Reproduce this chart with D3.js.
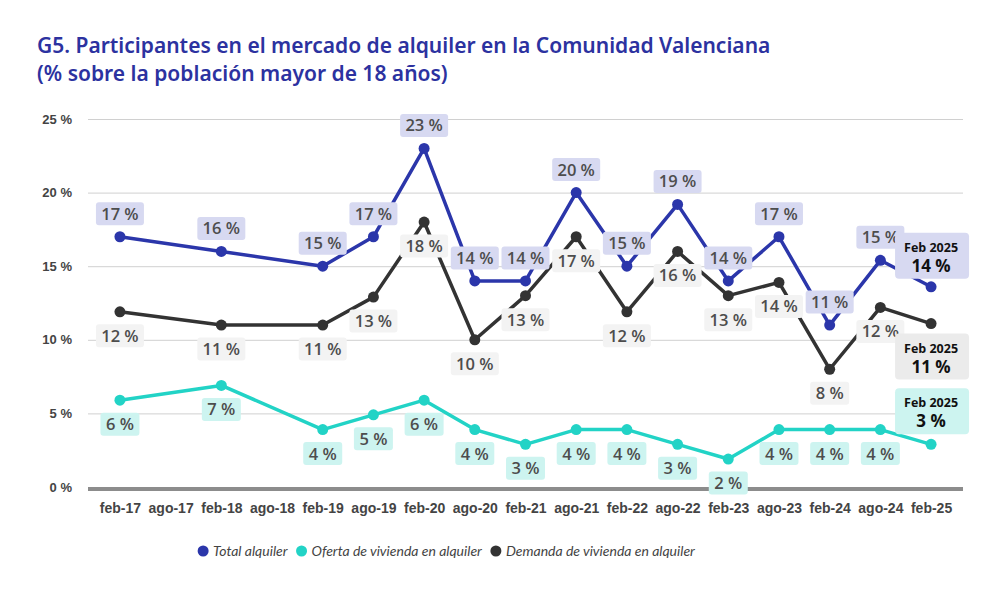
<!DOCTYPE html>
<html>
<head>
<meta charset="utf-8">
<script src="https://cdn.jsdelivr.net/npm/d3@7"></script>
<style>
  body { margin: 0; background: #fff; }
  svg { display: block; font-family: "Open Sans", sans-serif; }
</style>
</head>
<body>
<div class="canvas"></div>
<script>
// periods on the x axis
const periods = ['feb-17', 'ago-17', 'feb-18', 'ago-18', 'feb-19', 'ago-19', 'feb-20', 'ago-20',
  'feb-21', 'ago-21', 'feb-22', 'ago-22', 'feb-23', 'ago-23', 'feb-24', 'ago-24', 'feb-25'];

// periods that have survey data (no data for ago-17 and ago-18)
const surveyed = ['feb-17', 'feb-18', 'feb-19', 'ago-19', 'feb-20', 'ago-20', 'feb-21', 'ago-21',
  'feb-22', 'ago-22', 'feb-23', 'ago-23', 'feb-24', 'ago-24', 'feb-25'];

const totalAlquiler = [17, 16, 15, 17, 23, 14, 14, 20, 15, 19.2, 14, 17, 11, 15.4, 13.6];
const ofertaAlquiler = [5.9, 6.9, 3.9, 4.9, 5.9, 3.9, 2.9, 3.9, 3.9, 2.9, 1.9, 3.9, 3.9, 3.9, 2.9];
const demandaAlquiler = [11.9, 11, 11, 12.9, 18, 10, 13, 17, 11.9, 16, 13, 13.9, 8, 12.2, 11.1];

const yTicks = [0, 5, 10, 15, 20, 25];
const lastLabel = 'Feb 2025';

//chart dimensions
const dims = { width: 1000, height: 598 };
const plot = { left: 88, right: 963, top: 119, bottom: 487 };

const svg = d3.select('.canvas')
  .append('svg')
  .attr('width', dims.width)
  .attr('height', dims.height);

//title
const title = svg.append('text')
  .attr('x', 37)
  .attr('fill', '#2c32a0')
  .style('font-family', '"Noto Sans", sans-serif')
  .style('font-size', '21px')
  .style('font-weight', 600);
title.append('tspan').attr('x', 37).attr('y', 53)
  .text('G5. Participantes en el mercado de alquiler en la Comunidad Valenciana');
title.append('tspan').attr('x', 37).attr('y', 81)
  .text('(% sobre la población mayor de 18 años)');

//scales
const x = d3.scalePoint()
  .domain(periods)
  .range([plot.left, plot.right])
  .padding(0.63);

const y = d3.scaleLinear()
  .domain([0, 25])
  .range([plot.bottom, plot.top]);

//gridlines + y labels
const yAxis = svg.append('g')
  .attr('transform', `translate(${plot.left}, 0)`)
  .call(d3.axisLeft(y).tickValues(yTicks).tickSize(-(plot.right - plot.left)).tickFormat(d => d + ' %'));
yAxis.select('.domain').remove();
yAxis.selectAll('line').attr('stroke', '#d0d0d0').attr('stroke-width', 1);
yAxis.selectAll('text')
  .attr('x', -16)
  .attr('fill', '#444')
  .style('font-size', '13px')
  .style('font-weight', 600);

//x axis
const xAxis = svg.append('g')
  .attr('transform', `translate(0, ${plot.bottom + 2})`)
  .call(d3.axisBottom(x).tickSize(0).tickPadding(14));
xAxis.select('.domain')
  .attr('d', `M${plot.left},0H${plot.right}`)
  .attr('stroke', '#8c8c8c')
  .attr('stroke-width', 4);
xAxis.selectAll('text')
  .attr('fill', '#444')
  .style('font-size', '14px')
  .style('font-weight', 600);

//series setup
const series = [
  { name: 'Demanda de vivienda en alquiler', values: demandaAlquiler, color: '#333333', bg: '#f3f3f3', lastBg: '#ebebeb', dy: 24, lastDy: 33 },
  { name: 'Oferta de vivienda en alquiler', values: ofertaAlquiler, color: '#22d3c6', bg: '#cdf4f0', lastBg: '#cdf4f0', dy: 24, lastDy: -33 },
  { name: 'Total alquiler', values: totalAlquiler, color: '#2b36aa', bg: '#d7d9f1', lastBg: '#d7d9f1', dy: -23, lastDy: -31 }
];

const line = d3.line()
  .x(d => x(d.period))
  .y(d => y(d.value));

series.forEach(s => {
  s.points = surveyed.map((p, i) => ({ period: p, value: s.values[i] }));
});

const lines = svg.append('g');
series.forEach(s => {
  lines.append('path')
    .attr('d', line(s.points))
    .attr('fill', 'none')
    .attr('stroke', s.color)
    .attr('stroke-width', 3.5)
    .attr('stroke-linejoin', 'round');
  lines.selectAll(null)
    .data(s.points)
    .enter()
    .append('circle')
      .attr('cx', d => x(d.period))
      .attr('cy', d => y(d.value))
      .attr('r', 5.5)
      .attr('fill', s.color);
});

//data labels
const labels = svg.append('g');
series.forEach(s => {
  const n = s.points.length;
  s.points.forEach((d, i) => {
    const cx = x(d.period);
    const cy = y(d.value);
    const g = labels.append('g');
    if (i < n - 1) {
      const txt = Math.round(d.value) + ' %';
      const w = txt.length > 3 ? 48 : 39;
      g.append('rect')
        .attr('x', cx - w / 2).attr('y', cy + s.dy - 11.5)
        .attr('width', w).attr('height', 23)
        .attr('rx', 3)
        .attr('fill', s.bg);
      g.append('text')
        .attr('x', cx).attr('y', cy + s.dy + 6)
        .attr('text-anchor', 'middle')
        .attr('fill', '#4d4d4d')
        .style('font-size', '16.5px')
        .style('font-weight', 600)
        .text(txt);
    } else {
      //last point gets a two line annotation
      const by = cy + s.lastDy;
      g.append('rect')
        .attr('x', cx - 36).attr('y', by - 23)
        .attr('width', 74).attr('height', 46)
        .attr('rx', 4)
        .attr('fill', s.lastBg);
      g.append('text')
        .attr('x', cx).attr('y', by - 4)
        .attr('text-anchor', 'middle')
        .attr('fill', '#111')
        .style('font-size', '12.5px')
        .style('font-weight', 700)
        .text(lastLabel);
      g.append('text')
        .attr('x', cx).attr('y', by + 16)
        .attr('text-anchor', 'middle')
        .attr('fill', '#111')
        .style('font-size', '17px')
        .style('font-weight', 700)
        .text(Math.round(d.value) + ' %');
    }
  });
});

//legend, centred under the plot
const legendOrder = [series[2], series[1], series[0]];
const legend = svg.append('g');
let lx = 0;
legendOrder.forEach(s => {
  const item = legend.append('g').attr('transform', `translate(${lx}, 0)`);
  item.append('circle').attr('r', 5.5).attr('fill', s.color);
  const t = item.append('text')
    .attr('x', 10).attr('y', 5)
    .attr('fill', '#444')
    .style('font-family', 'Lato, sans-serif')
    .style('font-size', '14px')
    .style('font-style', 'italic')
    .text(s.name);
  lx += 10 + t.node().getComputedTextLength() + 14;
});
legend.attr('transform', `translate(${443 - (lx - 14) / 2 + 6}, 551)`);
</script>
</body>
</html>
